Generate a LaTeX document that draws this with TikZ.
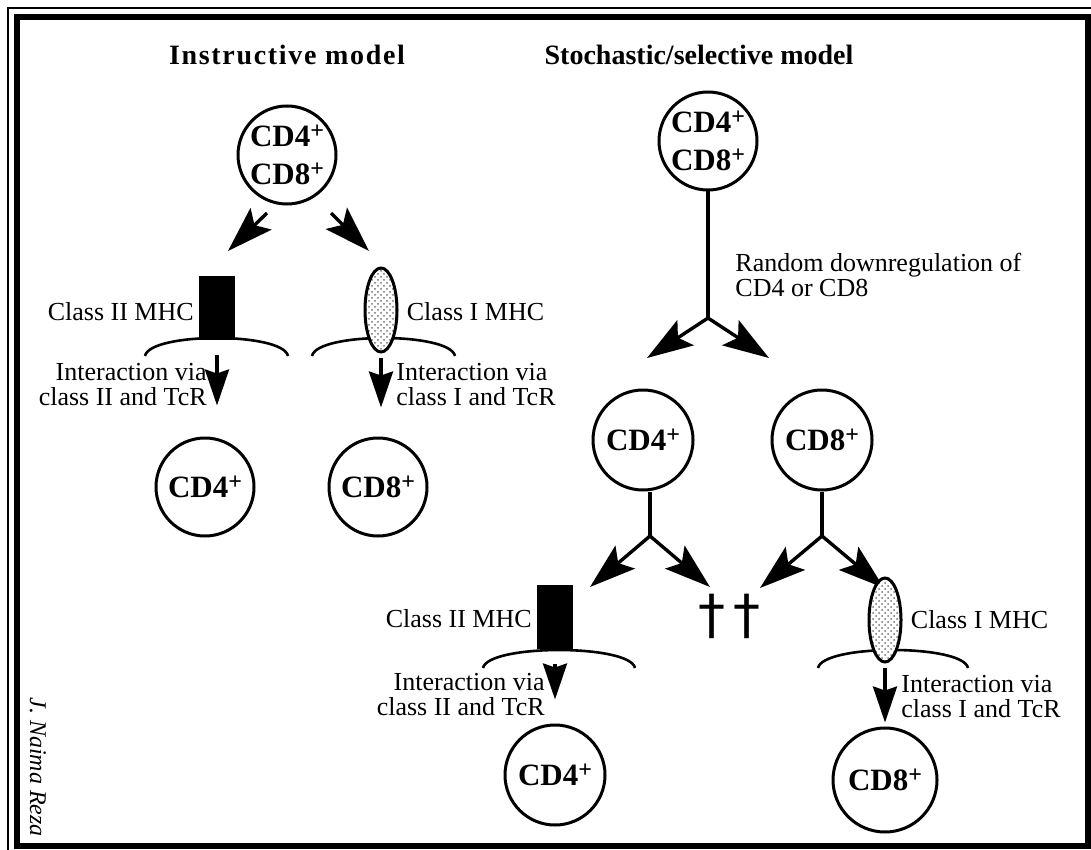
\documentclass[tikz,border=0pt]{standalone}
\usepackage{fontspec}
\setmainfont{Liberation Serif}
\newfontfamily\crossfont{DejaVu Sans}
\usetikzlibrary{arrows.meta,shapes.geometric,positioning,patterns}
\newcommand{\plussign}{\raisebox{0.6ex}{\fontsize{12}{12}\selectfont+}}

\begin{document}
\begin{tikzpicture}[x=0.5pt,y=-0.5pt,
		cell/.style={draw, circle, line width=1.5pt, minimum size=49pt, inner sep=0pt, align=center, font=\fontsize{15.5}{19}\selectfont\bfseries},
		classII/.style={draw=black, fill=black, minimum width=17.5pt, minimum height=31.5pt, inner sep=0pt},
		classI/.style={draw, ellipse, line width=1.5pt, preaction={fill=white}, pattern=crosshatch dots, pattern color=black!55, minimum width=16pt, minimum height=42pt, inner sep=0pt},
		lbl/.style={font=\fontsize{13}{12.5}\selectfont, inner sep=0pt},
		ttl/.style={font=\fontsize{14}{18}\selectfont\bfseries},
		arr/.style={line width=1.7pt, -{Stealth[length=23pt, width=15pt, inset=4.5pt]}},
		darr/.style={line width=1.7pt, -{Stealth[length=18pt, width=12pt, inset=2pt]}},
		membrane/.style={line width=1.3pt},
		stem/.style={line width=1.6pt},
		dead/.style={font=\fontsize{27}{27}\selectfont\crossfont, inner sep=0pt},
	]
	\useasboundingbox (0,0) rectangle (1091,850);
	% frames
	\draw[line width=0.6pt] (8,860) -- (8,8) -- (1100,8);
	\draw[line width=2.6pt] (17,17) rectangle (1088,846);
	\node[ttl, font=\fontsize{14}{18}\selectfont\bfseries\addfontfeatures{LetterSpace=6}] (tInstr) at (287,55) {Instructive model};
	\node[ttl] (tStoch) at (699,55) {Stochastic/selective model};
	\node[lbl, font=\fontsize{12}{12}\selectfont\itshape, rotate=-90] (author) at (38,767) {J. Naima Reza};

	% membranes
	\draw[membrane] (145,356) .. controls (150,332) and (283,332) .. (288,356);
	\draw[membrane] (312,356) .. controls (317,332) and (450,332) .. (455,356);
	\draw[membrane] (483,668) .. controls (488,644) and (630,644) .. (635,668);
	\draw[membrane] (818,668) .. controls (823,644) and (963,644) .. (968,668);

	% instructive model
	\node[cell] (dpL) at (287,155) {CD4\plussign\\CD8\plussign};
	\coordinate (dpL-l) at (267,213);
	\coordinate (dpL-r) at (331,213);
	\coordinate (tipL-l) at (228,251);
	\coordinate (tipL-r) at (369,251);
	\draw[arr] (dpL-l) -- (tipL-l);
	\draw[arr] (dpL-r) -- (tipL-r);
	\node[classII] (mhcIIa) at (217,308) {};
	\node[classI] (mhcIa) at (381,310) {};
	\node[lbl, left=2.5pt of mhcIIa, yshift=-2pt] (mhcIIa-lbl) {Class II MHC};
	\node[lbl, right=4pt of mhcIa, yshift=-1pt] (mhcIa-lbl) {Class I MHC};
	\node[cell] (cd4L) at (205,487) {CD4\plussign};
	\node[cell] (cd8L) at (378,487) {CD8\plussign};
	\draw[darr, shorten <=7.5pt, shorten >=15.5pt] (mhcIIa.south) -- (mhcIIa.south |- cd4L.north);
	\draw[darr, shorten <=2pt, shorten >=14.5pt] (mhcIa.south) -- (mhcIa.south |- cd8L.north);
	\node[lbl, align=right, anchor=east] (viaIIa) at (207,385) {Interaction via\\class II and TcR};
	\node[lbl, align=left, anchor=west] (viaIa) at (396,385) {Interaction via\\class I and TcR};

	% stochastic/selective model
	\node[cell] (dpR) at (708,141) {CD4\plussign\\CD8\plussign};
	\coordinate (jR) at (708,318);
	\coordinate (tipR-l) at (647,358);
	\coordinate (tipR-r) at (769,358);
	\draw[stem] (dpR) -- (jR);
	\draw[arr] (jR) -- (tipR-l);
	\draw[arr] (jR) -- (tipR-r);
	\node[lbl, align=left, anchor=west] (random) at (735,275) {Random downregulation of\\CD4 or CD8};
	\node[cell, minimum size=50pt] (cd4M) at (643,440) {CD4\plussign};
	\node[cell, minimum size=50pt] (cd8M) at (822,440) {CD8\plussign};
	\coordinate (j4) at (650,536);
	\coordinate (j8) at (822,536);
	\coordinate (tip4-l) at (590,587);
	\coordinate (tip4-r) at (710,587);
	\coordinate (tip8-l) at (760,588);
	\coordinate (tip8-r) at (884,588);
	\draw[stem] (j4 |- cd4M.south) -- (j4);
	\draw[stem] (cd8M.south) -- (j8);
	\draw[arr] (j4) -- (tip4-l);
	\draw[arr] (j4) -- (tip4-r);
	\draw[arr] (j8) -- (tip8-l);
	\draw[arr] (j8) -- (tip8-r);
	\node[dead] (deadA) at (712,616) {†};
	\node[dead] (deadB) at (747,616) {†};
	\node[classII] (mhcIIb) at (555,617) {};
	\node[classI] (mhcIb) at (885,620) {};
	\node[lbl, left=2.5pt of mhcIIb, yshift=-1pt] (mhcIIb-lbl) {Class II MHC};
	\node[lbl, right=4pt of mhcIb] (mhcIb-lbl) {Class I MHC};
	\node[cell, minimum size=50pt] (cd4B) at (555,775) {CD4\plussign};
	\node[cell, minimum size=52pt] (cd8B) at (885,780) {CD8\plussign};
	\draw[darr, shorten <=7.5pt, shorten >=12pt] (mhcIIb.south) -- (cd4B.north);
	\draw[darr, shorten <=2pt, shorten >=2pt] (mhcIb.south) -- (cd8B.north);
	\node[lbl, align=right, anchor=east] (viaIIb) at (545,695) {Interaction via\\class II and TcR};
	\node[lbl, align=left, anchor=west] (viaIb) at (901,697) {Interaction via\\class I and TcR};
\end{tikzpicture}
\end{document}
